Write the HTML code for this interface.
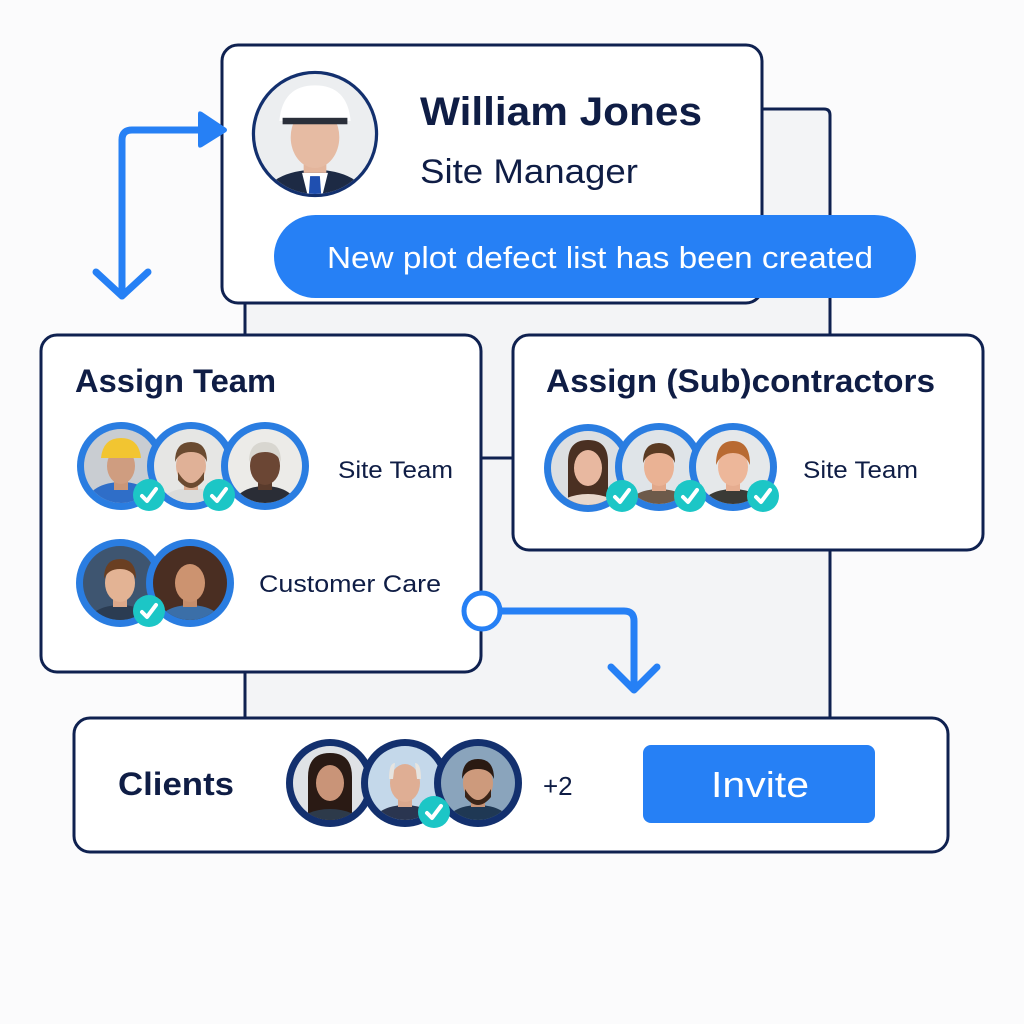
<!DOCTYPE html>
<html><head><meta charset="utf-8"><style>
html,body{margin:0;padding:0;background:#fbfbfc;}
svg{display:block;font-family:"Liberation Sans",sans-serif;}
</style></head><body>
<svg width="1024" height="1024" viewBox="0 0 1024 1024" xmlns="http://www.w3.org/2000/svg">
<defs>
<clipPath id="c"><circle cx="0" cy="0" r="37"/></clipPath>
</defs>
<rect width="1024" height="1024" fill="#fbfbfc"/>
<!-- back panel -->
<path d="M245,718 L245,300 L245,108 L824,108 Q830,108 830,114 L830,718 Z" fill="#f3f4f6"/>
<path d="M762,109 L824,109 Q830,109 830,115 L830,718" fill="none" stroke="#0f2150" stroke-width="3"/>
<line x1="245" y1="300" x2="245" y2="336" stroke="#0f2150" stroke-width="3"/>
<line x1="245" y1="670" x2="245" y2="720" stroke="#0f2150" stroke-width="3"/>
<line x1="481" y1="458" x2="514" y2="458" stroke="#0f2150" stroke-width="3"/>

<!-- top card -->
<rect x="222" y="45" width="540" height="258" rx="16" fill="#fff" stroke="#0f2150" stroke-width="3"/>
<g transform="translate(315,134) scale(1.62)">
<circle r="39" fill="#13306e"/>
<g clip-path="url(#c)">
<rect x="-40" y="-40" width="80" height="80" fill="#eceef0"/>
<ellipse cx="0" cy="40" rx="32" ry="18" fill="#1d2a44"/>
<path d="M-8,24 L8,24 L4,40 L-4,40Z" fill="#fff"/>
<path d="M-3,26 L3,26 L4,40 L-4,40Z" fill="#1f4fb0"/>
<rect x="-7" y="8" width="14" height="16" fill="#e3b59c"/>
<ellipse cx="0" cy="2" rx="15" ry="19" fill="#e6bba3"/>
<path d="M-22,-8 Q-20,-30 0,-30 Q20,-30 22,-8 Z" fill="#fff"/>
<rect x="-20" y="-10" width="40" height="4" fill="#2a2f3a"/>
</g></g>
<text x="420" y="125" font-size="40" font-weight="bold" fill="#0f1d45" textLength="282" lengthAdjust="spacingAndGlyphs">William Jones</text>
<text x="420" y="183" font-size="34" fill="#0f1d45" textLength="218" lengthAdjust="spacingAndGlyphs">Site Manager</text>
<rect x="274" y="215" width="642" height="83" rx="41.5" fill="#2680f5"/>
<text x="600" y="268" font-size="31" fill="#fff" text-anchor="middle" textLength="546" lengthAdjust="spacingAndGlyphs">New plot defect list has been created</text>

<!-- left arrow -->
<path d="M122,296 L122,140 Q122,130 132,130 L202,130" fill="none" stroke="#2680f5" stroke-width="7"/>
<path d="M198,114 Q198,110 202,112 L226,128 Q228,130 226,132 L202,147 Q198,149 198,145 Z" fill="#2680f5"/>
<path d="M96,272 L122,296 L148,272" fill="none" stroke="#2680f5" stroke-width="7" stroke-linecap="round" stroke-linejoin="round"/>

<!-- Assign team card -->
<rect x="41" y="335" width="440" height="337" rx="16" fill="#fff" stroke="#0f2150" stroke-width="3"/>
<text x="75" y="392" font-size="32" font-weight="bold" fill="#0f1d45" textLength="201" lengthAdjust="spacingAndGlyphs">Assign Team</text>
<g transform="translate(121,466)"><circle r="44" fill="#2a7de1"/><g clip-path="url(#c)"><rect x="-40" y="-40" width="80" height="80" fill="#c9cdd2"/><ellipse cx="0" cy="36" rx="34" ry="20" fill="#2f6ec8"/><rect x="-7" y="8" width="14" height="16" fill="#c99678"/><ellipse cx="0" cy="0" rx="14" ry="18" fill="#cf9d80"/><path d="M-20,-8 Q-18,-28 0,-28 Q18,-28 20,-8 Z" fill="#f2c531"/></g></g>
<g transform="translate(191,466)"><circle r="44" fill="#2a7de1"/><g clip-path="url(#c)"><rect x="-40" y="-40" width="80" height="80" fill="#e6e6e4"/><ellipse cx="0" cy="40" rx="32" ry="18" fill="#dcdcda"/><rect x="-7" y="8" width="14" height="16" fill="#d9a98c"/><ellipse cx="0" cy="0" rx="15" ry="19" fill="#e0b197"/><path d="M-13,6 Q0,28 13,6 L13,14 Q0,30 -13,14Z" fill="#6b4a30"/><path d="M-16,-4 Q-16,-24 0,-24 Q16,-24 16,-4 Q12,-14 0,-14 Q-12,-14 -16,-4Z" fill="#6a4a30"/></g></g>
<g transform="translate(265,466)"><circle r="44" fill="#2a7de1"/><g clip-path="url(#c)"><rect x="-40" y="-40" width="80" height="80" fill="#ecebe8"/><ellipse cx="0" cy="40" rx="32" ry="20" fill="#2a2d36"/><rect x="-7" y="8" width="14" height="16" fill="#5a3b2c"/><ellipse cx="0" cy="0" rx="15" ry="19" fill="#6b4634"/><path d="M-16,-4 Q-16,-24 0,-24 Q16,-24 16,-4 Q12,-14 0,-14 Q-12,-14 -16,-4Z" fill="#d8d6d0"/></g></g>
<text x="338" y="478" font-size="24" fill="#0f1d45" textLength="115" lengthAdjust="spacingAndGlyphs">Site Team</text>
<g transform="translate(120,583)"><circle r="44" fill="#2a7de1"/><g clip-path="url(#c)"><rect x="-40" y="-40" width="80" height="80" fill="#3e5570"/><ellipse cx="0" cy="40" rx="32" ry="18" fill="#2b3c52"/><rect x="-7" y="8" width="14" height="16" fill="#dca88a"/><ellipse cx="0" cy="0" rx="15" ry="19" fill="#e3b394"/><path d="M-16,-4 Q-16,-24 0,-24 Q16,-24 16,-4 Q12,-14 0,-14 Q-12,-14 -16,-4Z" fill="#6a3f22"/></g></g>
<g transform="translate(190,583)"><circle r="44" fill="#2a7de1"/><g clip-path="url(#c)"><rect x="-40" y="-40" width="80" height="80" fill="#4a2e22"/><ellipse cx="0" cy="40" rx="32" ry="18" fill="#3b6fa8"/><rect x="-7" y="8" width="14" height="16" fill="#c58d6b"/><ellipse cx="0" cy="0" rx="15" ry="19" fill="#cc9370"/></g></g>
<text x="259" y="592" font-size="24" fill="#0f1d45" textLength="182" lengthAdjust="spacingAndGlyphs">Customer Care</text>
<g fill="#1cc6c6" stroke="#fff" stroke-width="0">
<circle cx="149" cy="495" r="16"/><circle cx="219" cy="495" r="16"/><circle cx="149" cy="611" r="16"/>
</g>
<g fill="none" stroke="#fff" stroke-width="4" stroke-linecap="round" stroke-linejoin="round">
<path d="M142,496 L147,501 L156,489"/><path d="M212,496 L217,501 L226,489"/><path d="M142,612 L147,617 L156,605"/>
</g>

<!-- connector to bottom -->
<path d="M500,611 L624,611 Q634,611 634,621 L634,688" fill="none" stroke="#2680f5" stroke-width="7"/>
<path d="M611,667 L634,690 L657,667" fill="none" stroke="#2680f5" stroke-width="7" stroke-linecap="round" stroke-linejoin="round"/>
<circle cx="482" cy="611" r="18" fill="#fff" stroke="#2680f5" stroke-width="5"/>

<!-- right card -->
<rect x="513" y="335" width="470" height="215" rx="16" fill="#fff" stroke="#0f2150" stroke-width="3"/>
<text x="546" y="392" font-size="32" font-weight="bold" fill="#0f1d45" textLength="389" lengthAdjust="spacingAndGlyphs">Assign (Sub)contractors</text>
<g transform="translate(588,468)"><circle r="44" fill="#2a7de1"/><g clip-path="url(#c)"><rect x="-40" y="-40" width="80" height="80" fill="#dcdfe2"/><path d="M-20,40 L-20,-6 Q-20,-28 0,-28 Q20,-28 20,-6 L20,40Z" fill="#4a3022"/><ellipse cx="0" cy="40" rx="30" ry="14" fill="#e8d8cc"/><ellipse cx="0" cy="0" rx="14" ry="18" fill="#e8b8a0"/></g></g>
<g transform="translate(659,467)"><circle r="44" fill="#2a7de1"/><g clip-path="url(#c)"><rect x="-40" y="-40" width="80" height="80" fill="#dfe4e8"/><ellipse cx="0" cy="40" rx="32" ry="18" fill="#6d5a4a"/><rect x="-7" y="8" width="14" height="16" fill="#e2a88a"/><ellipse cx="0" cy="0" rx="15" ry="19" fill="#eab294"/><path d="M-16,-4 Q-16,-24 0,-24 Q16,-24 16,-4 Q12,-14 0,-14 Q-12,-14 -16,-4Z" fill="#5a3a22"/></g></g>
<g transform="translate(733,467)"><circle r="44" fill="#2a7de1"/><g clip-path="url(#c)"><rect x="-40" y="-40" width="80" height="80" fill="#e5e8ea"/><ellipse cx="0" cy="40" rx="32" ry="18" fill="#3a3a36"/><rect x="-7" y="8" width="14" height="16" fill="#e6ad90"/><ellipse cx="0" cy="0" rx="15" ry="19" fill="#edb79a"/><path d="M-17,-2 Q-17,-26 0,-26 Q17,-26 17,-2 Q12,-14 0,-14 Q-12,-14 -17,-2Z" fill="#b86a32"/></g></g>
<text x="803" y="478" font-size="24" fill="#0f1d45" textLength="115" lengthAdjust="spacingAndGlyphs">Site Team</text>
<g fill="#1cc6c6"><circle cx="622" cy="496" r="16"/><circle cx="690" cy="496" r="16"/><circle cx="763" cy="496" r="16"/></g>
<g fill="none" stroke="#fff" stroke-width="4" stroke-linecap="round" stroke-linejoin="round">
<path d="M615,497 L620,502 L629,490"/><path d="M683,497 L688,502 L697,490"/><path d="M756,497 L761,502 L770,490"/>
</g>

<!-- clients card -->
<rect x="74" y="718" width="874" height="134" rx="16" fill="#fff" stroke="#0f2150" stroke-width="3"/>
<text x="118" y="795" font-size="32" font-weight="bold" fill="#0f1d45" textLength="116" lengthAdjust="spacingAndGlyphs">Clients</text>
<g transform="translate(330,783)"><circle r="44" fill="#13306e"/><g clip-path="url(#c)"><rect x="-40" y="-40" width="80" height="80" fill="#dfe2e6"/><path d="M-22,40 L-22,-6 Q-22,-30 0,-30 Q22,-30 22,-6 L22,40Z" fill="#2a1a14"/><ellipse cx="0" cy="40" rx="30" ry="14" fill="#2d3a4a"/><ellipse cx="0" cy="0" rx="14" ry="18" fill="#c99478"/></g></g>
<g transform="translate(405,783)"><circle r="44" fill="#13306e"/><g clip-path="url(#c)"><rect x="-40" y="-40" width="80" height="80" fill="#c4d8ea"/><ellipse cx="0" cy="40" rx="32" ry="18" fill="#2a3550"/><rect x="-7" y="8" width="14" height="16" fill="#d9a88e"/><ellipse cx="0" cy="0" rx="15" ry="19" fill="#dfae94"/><path d="M-16,-4 Q-16,-20 -10,-20 L-12,-4Z M16,-4 Q16,-20 10,-20 L12,-4Z" fill="#e6e4e0"/></g></g>
<g transform="translate(478,783)"><circle r="44" fill="#13306e"/><g clip-path="url(#c)"><rect x="-40" y="-40" width="80" height="80" fill="#8aa4bc"/><ellipse cx="0" cy="40" rx="32" ry="18" fill="#1f3854"/><rect x="-7" y="8" width="14" height="16" fill="#c59276"/><ellipse cx="0" cy="0" rx="15" ry="19" fill="#cd9a7c"/><path d="M-13,6 Q0,28 13,6 L13,14 Q0,30 -13,14Z" fill="#3a2418"/><path d="M-16,-4 Q-16,-24 0,-24 Q16,-24 16,-4 Q12,-14 0,-14 Q-12,-14 -16,-4Z" fill="#2a1a12"/></g></g>
<circle cx="434" cy="812" r="16" fill="#1cc6c6"/>
<path d="M427,813 L432,818 L441,806" fill="none" stroke="#fff" stroke-width="4" stroke-linecap="round" stroke-linejoin="round"/>
<text x="543" y="795" font-size="26" fill="#0f1d45">+2</text>
<rect x="643" y="745" width="232" height="78" rx="8" fill="#2680f5"/>
<text x="760" y="797" font-size="36" fill="#fff" text-anchor="middle" textLength="98" lengthAdjust="spacingAndGlyphs">Invite</text>
</svg>
</body></html>
